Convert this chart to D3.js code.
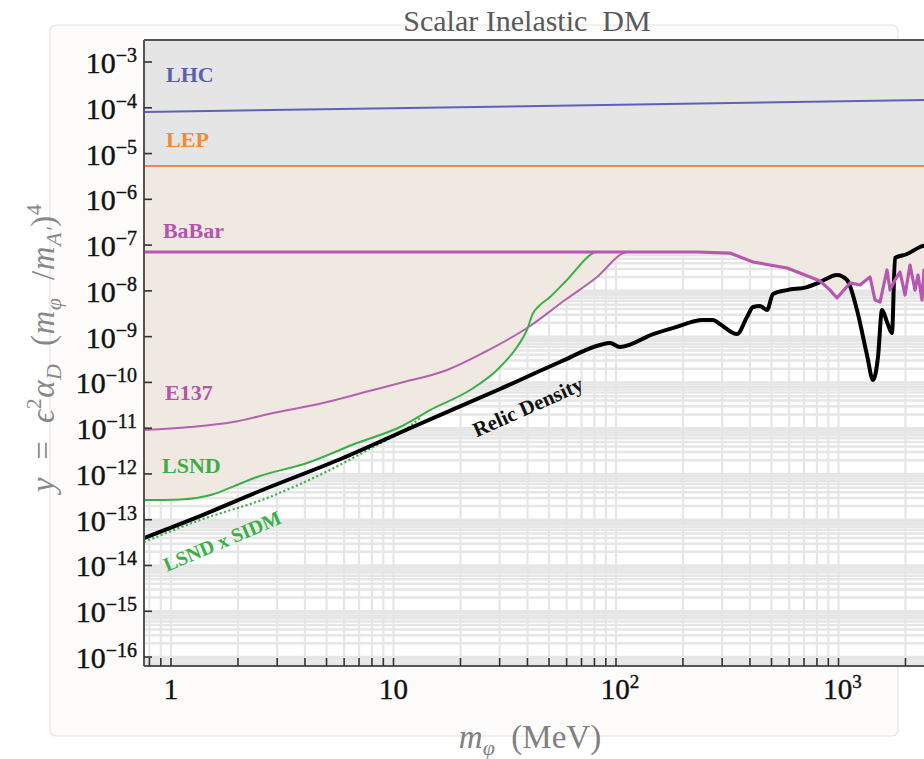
<!DOCTYPE html>
<html><head><meta charset="utf-8">
<script src="https://cdn.jsdelivr.net/npm/d3@7"></script>
<style>body{margin:0;background:#fff;} svg{display:block;} text{white-space:pre;}</style>
</head><body><svg id="c" width="924" height="759"></svg>
<script>
// ---------------- data ----------------
const titleText = "Scalar Inelastic  DM";
const lhc   = [[0.75, 8.1e-5],[2600, 1.48e-4]];
const lep   = [[0.75, 5.35e-6],[2600, 5.35e-6]];
const babar = [[0.75,7.06e-8],[231,7.06e-8],[325,6.71e-8],[413,4.27e-8],[587,3.16e-8],[745,2.01e-8],[826,1.64e-8],[916,1.04e-8],[985,6.98e-9],[1126,1.49e-8],[1250,1.34e-8],[1386,2.01e-8],[1459,6.31e-9],[1537,5.70e-9],[1652,2.86e-8],[1704,1.04e-8],[1795,1.73e-8],[1890,2.58e-8],[1991,8.1e-9],[2096,3.67e-8],[2207,1.04e-8],[2277,2.22e-8],[2373,6.31e-9],[2423,2.86e-8],[2577,1.34e-8]];
const e137  = [[0.756,9.12e-12],[1.217,1.06e-11],[1.90,1.36e-11],[2.87,2.14e-11],[4.82,3.55e-11],[8.09,6.82e-11],[10.7,9.70e-11],[17.4,1.87e-10],[25.2,4.39e-10],[41.1,1.71e-9],[59.0,6.31e-9],[82.2,2.01e-8],[108,6.71e-8],[112,7.06e-8]];
const lsnd  = [[0.756,2.69e-13],[1.10,2.78e-13],[1.30,2.98e-13],[1.55,3.6e-13],[1.90,5.3e-13],[2.435,8.57e-13],[4.09,1.73e-12],[6.85,4.74e-12],[10.7,1.06e-11],[14.6,2.49e-11],[22.1,6.82e-11],[29.2,1.87e-10],[35.9,5.93e-10],[39.8,1.40e-9],[42.4,3.28e-9],[44.6,4.44e-9],[50.5,7.35e-9],[60.2,1.73e-8],[78.8,6.71e-8],[80.5,7.06e-8]];
const sidm  = [[0.756,3.26e-14],[1.35,9.84e-14],[2.70,2.98e-13],[5.18,1.22e-12],[8.43,4.29e-12],[10.7,7.83e-12],[13.2,1.67e-11]];
const relic = [[0.756,3.98e-14],[1.35,1.20e-13],[2.51,4.24e-13],[5.93,2.23e-12],[12.2,1.06e-11],[30.1,7.18e-11],[56.0,2.79e-10],[84.7,6.56e-10],[94.0,7.26e-10],[104,5.93e-10],[147,1.14e-9],[180,1.54e-9],[246,2.31e-9],[273,2.31e-9],[293,1.89e-9],[350,1.14e-9],[388,2.69e-9],[413,4.44e-9],[444,4.67e-9],[477,3.82e-9],[508,8.53e-9],[587,1.04e-8],[722,1.21e-8],[826,1.56e-8],[985,2.22e-8],[1092,1.73e-8],[1211,3.82e-9],[1343,3.96e-10],[1429,1.13e-10],[1505,3.59e-10],[1569,3.82e-9],[1652,2.09e-9],[1739,1.20e-9],[1795,5.22e-8],[2032,6.38e-8],[2325,9.08e-8],[2577,1.06e-7]];
const yTickExps = [-3,-4,-5,-6,-7,-8,-9,-10,-11,-12,-13,-14,-15,-16];
const xTickLabels = [{v:1,b:"1",e:""},{v:10,b:"10",e:""},{v:100,b:"10",e:"2"},{v:1000,b:"10",e:"3"}];
const curveLabels = [
  {t:"LHC",  x:0.95, y:3.66e-4, c:"#5a5fb3"},
  {t:"LEP",  x:0.95, y:1.39e-5, c:"#f28a36"},
  {t:"BaBar",x:0.92, y:1.43e-7, c:"#b455ad"},
  {t:"E137", x:0.94, y:4.12e-11,c:"#b455ad"},
  {t:"LSND", x:0.911,y:1.05e-12,c:"#3aaf48"}
];

// ---------------- setup ----------------
const svg = d3.select("#c");
const L=144, R=924, T=40, B=666;
const x = d3.scaleLog().domain([Math.pow(10,-0.12135), Math.pow(10,3.3843)]).range([L,R]);
const y = d3.scaleLog().domain([Math.pow(10,-16.196), Math.pow(10,-2.519)]).range([B,T]);
const serif = "'Liberation Serif','Times New Roman',serif";

function rich(sel, parts){
  let cur=0;
  parts.forEach(p=>{
    const s=p.shift||0;
    const t=sel.append("tspan").text(p.t).attr("dy", s-cur);
    cur=s;
    if(p.size) t.attr("font-size",p.size);
    if(p.it) t.attr("font-style","italic");
  });
}

// outer panel
svg.append("rect").attr("x",50).attr("y",25).attr("width",848).attr("height",711).attr("rx",6)
  .attr("fill","#fdfcfb").attr("stroke","#e4e4e4").attr("stroke-width",1.2);

// title
svg.append("text").attr("x",527).attr("y",31).attr("text-anchor","middle")
  .attr("font-family",serif).attr("font-size",30).attr("fill","#5a5a5a").text(titleText);

svg.append("defs").append("clipPath").attr("id","clip")
  .append("rect").attr("x",L).attr("y",T).attr("width",R-L+10).attr("height",B-T);

const plot = svg.append("g").attr("clip-path","url(#clip)");
plot.append("rect").attr("x",L).attr("y",T).attr("width",R-L+10).attr("height",B-T).attr("fill","#ffffff");

// grid
const grid = plot.append("g");
for(let k=-17;k<=-2;k++) for(let m=1;m<=9;m++){
  const v=m*Math.pow(10,k);
  grid.append("line").attr("x1",L).attr("x2",R+10).attr("y1",y(v)).attr("y2",y(v))
    .attr("stroke","#e6e6e6").attr("stroke-width",2.5);
}
for(let k=-1;k<=3;k++) for(let m=1;m<=9;m++){
  const v=m*Math.pow(10,k);
  grid.append("line").attr("y1",T).attr("y2",B).attr("x1",x(v)).attr("x2",x(v))
    .attr("stroke","#e6e6e6").attr("stroke-width",2.2);
}

const lineLin = d3.line().x(d=>x(d[0])).y(d=>y(d[1]));
const lineSm  = d3.line().x(d=>x(d[0])).y(d=>y(d[1])).curve(d3.curveMonotoneX);
const areaLin = d3.area().x(d=>x(d[0])).y0(T).y1(d=>y(d[1]));
const areaSm  = d3.area().x(d=>x(d[0])).y0(T).y1(d=>y(d[1])).curve(d3.curveMonotoneX);

// beige exclusion (union of regions above each constraint)
const beige="#efe9e1";
plot.append("path").attr("d",areaLin(babar)).attr("fill",beige);
plot.append("path").attr("d",areaSm(e137)).attr("fill",beige);
plot.append("path").attr("d",areaSm(lsnd)).attr("fill",beige);
// gray region above LEP
plot.append("path").attr("d",areaLin(lep)).attr("fill","#e5e5e5");

// curves
plot.append("path").attr("d",lineLin(lhc)).attr("fill","none").attr("stroke","#5c62b5").attr("stroke-width",2);
plot.append("path").attr("d",lineLin(lep)).attr("fill","none").attr("stroke","#f28a36").attr("stroke-width",2.2);
plot.append("path").attr("d",lineSm(e137)).attr("fill","none").attr("stroke","#b462b0").attr("stroke-width",2);
plot.append("path").attr("d",lineSm(lsnd)).attr("fill","none").attr("stroke","#3aaf48").attr("stroke-width",2);
plot.append("path").attr("d",lineSm(sidm)).attr("fill","none").attr("stroke","#3aaf48").attr("stroke-width",2.2).attr("stroke-dasharray","2,2.5");
plot.append("path").attr("d",lineSm(relic)).attr("fill","none").attr("stroke","#000").attr("stroke-width",4).attr("stroke-linejoin","round");
plot.append("path").attr("d",lineLin(babar)).attr("fill","none").attr("stroke","#b857b0").attr("stroke-width",3.2).attr("stroke-linejoin","round");

// curve labels
curveLabels.forEach(l=>{
  svg.append("text").attr("x",x(l.x)).attr("y",y(l.y)).attr("font-family",serif)
    .attr("font-weight","bold").attr("font-size",22).attr("fill",l.c).text(l.t);
});
svg.append("text").attr("transform",`translate(${x(40.2)},${y(2.9e-11)}) rotate(-24)`)
  .attr("text-anchor","middle").attr("dominant-baseline","central").attr("font-family",serif)
  .attr("font-weight","bold").attr("font-size",21).attr("fill","#111").text("Relic Density");
svg.append("text").attr("transform",`translate(${x(1.695)},${y(3.43e-14)}) rotate(-23)`)
  .attr("text-anchor","middle").attr("dominant-baseline","central").attr("font-family",serif)
  .attr("font-weight","bold").attr("font-size",20).attr("fill","#3aaf48").text("LSND x SIDM");

// axes frame
const ax = svg.append("g").attr("stroke","#555").attr("stroke-width",2);
ax.append("line").attr("x1",L).attr("x2",R).attr("y1",T).attr("y2",T);
ax.append("line").attr("x1",L).attr("x2",L).attr("y1",T).attr("y2",B);
ax.append("line").attr("x1",L).attr("x2",R).attr("y1",B).attr("y2",B);
// ticks
yTickExps.forEach(e=>{
  const py=y(Math.pow(10,e));
  svg.append("line").attr("x1",L).attr("x2",L+8).attr("y1",py).attr("y2",py).attr("stroke","#333").attr("stroke-width",1.6);
  const t=svg.append("text").attr("x",137).attr("y",py+11).attr("text-anchor","end")
    .attr("font-family",serif).attr("font-size",30).attr("fill","#111")
    .attr("stroke","#111").attr("stroke-width",0.4);
  rich(t,[{t:"10"},{t:"\u2212"+(-e),shift:-11,size:20}]);
});
for(let k=-1;k<=3;k++) for(let m=1;m<=9;m++){
  const v=m*Math.pow(10,k);
  if(v<x.domain()[0]||v>x.domain()[1]) continue;
  const px=x(v);
  svg.append("line").attr("x1",px).attr("x2",px).attr("y1",B).attr("y2",B-8).attr("stroke","#333").attr("stroke-width",1.6);
}
xTickLabels.forEach(d=>{
  const t=svg.append("text").attr("x",x(d.v)+(d.e?4:0)).attr("y",699).attr("text-anchor","middle")
    .attr("font-family",serif).attr("font-size",29).attr("fill","#111")
    .attr("stroke","#111").attr("stroke-width",0.4);
  const parts=[{t:d.b}]; if(d.e) parts.push({t:d.e,shift:-11,size:19});
  rich(t,parts);
});

// axis titles
const xt=svg.append("text").attr("x",530).attr("y",748).attr("text-anchor","middle")
  .attr("font-family",serif).attr("font-size",33).attr("fill","#808080");
rich(xt,[{t:"m",it:1},{t:"\u03C6",it:1,shift:7,size:22},{t:"  (MeV)"}]);

const yt=svg.append("text").attr("transform","translate(54,348) rotate(-90)").attr("text-anchor","middle")
  .attr("font-family",serif).attr("font-size",33).attr("fill","#888").attr("letter-spacing",0.5);
rich(yt,[{t:"y",it:1},{t:"  =  "},{t:"\u03F5",it:1},{t:"2",shift:-13,size:22},{t:"\u03B1",it:1},
  {t:"D",it:1,shift:7,size:22},{t:"  ("},{t:"m",it:1},{t:"\u03C6",it:1,shift:7,size:22},{t:"  /"},
  {t:"m",it:1},{t:"A\u2032",it:1,shift:7,size:22},{t:")"},{t:"4",shift:-13,size:22}]);
</script></body></html>
